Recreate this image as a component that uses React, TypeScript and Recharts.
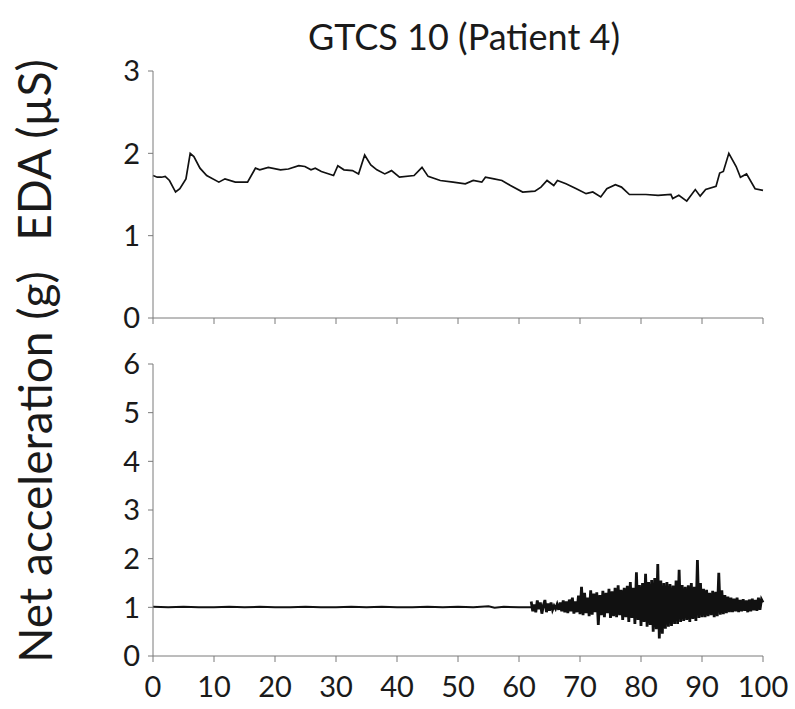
import { LineChart, Line, XAxis, YAxis } from "recharts";

const X_TICKS = [0, 10, 20, 30, 40, 50, 60, 70, 80, 90, 100];
const EDA_TICKS = [0, 1, 2, 3];
const ACC_TICKS = [0, 1, 2, 3, 4, 5, 6];

// EDA trace (time, µS)
const edaTime = [
  0, 0.7, 1.4, 2, 2.7, 3.7, 4.4, 5.4, 6.1, 6.7, 7.7, 8.8, 10.8, 11.8, 13.5, 15.5, 16.8, 17.5, 18.9, 20.9,
  22.2, 23.9, 24.9, 25.9, 26.6, 27.6, 29.6, 30.3, 31.3, 32.7, 33.7, 34.7, 35.7, 36.7, 38, 39.1, 40.4, 42.8,
  44.1, 45.1, 47.1, 49.2, 51.2, 52.5, 53.9, 54.5, 55.9, 57.2, 58.6, 60.6, 62.6, 63.6, 64.6, 65.7, 66.3,
  67.7, 69.4, 71, 72.1, 73.4, 74.4, 75.8, 76.8, 78.1, 80.8, 82.8, 84.9, 85.2, 86.2, 87.5, 88.9, 89.7, 90.6,
  92.3, 92.9, 93.5, 94.4, 95.6, 96.3, 97.3, 98.7, 100,
];
const edaValue = [
  1.73, 1.71, 1.71, 1.72, 1.67, 1.53, 1.57, 1.69, 2.0, 1.96, 1.82, 1.73, 1.65, 1.69, 1.65, 1.65, 1.82, 1.8,
  1.83, 1.8, 1.81, 1.85, 1.84, 1.8, 1.82, 1.78, 1.73, 1.85, 1.8, 1.79, 1.75, 1.98, 1.86, 1.8, 1.75, 1.79,
  1.71, 1.73, 1.83, 1.72, 1.67, 1.65, 1.63, 1.67, 1.65, 1.71, 1.69, 1.67, 1.61, 1.53, 1.54, 1.59, 1.67,
  1.61, 1.67, 1.63, 1.57, 1.51, 1.53, 1.47, 1.57, 1.62, 1.59, 1.5, 1.5, 1.49, 1.5, 1.45, 1.49, 1.42, 1.56,
  1.48, 1.56, 1.6, 1.76, 1.78, 2.0, 1.84, 1.71, 1.75, 1.57, 1.55,
];

// quiet part of the acceleration trace (time, g)
const accQuietTime = [0, 2.5, 5, 7.5, 10, 12.5, 15, 17.5, 20, 22.5, 25, 27.5, 30, 32.5, 35, 37.5, 40, 42.5, 45, 47.5, 50, 52.5, 55, 56, 57.5, 60, 62];
const accQuietValue = [1.01, 1.0, 1.01, 1.0, 1.0, 1.01, 1.0, 1.01, 1.0, 1.0, 1.01, 1.0, 1.0, 1.01, 1.0, 1.01, 1.0, 1.0, 1.01, 1.0, 1.01, 1.0, 1.02, 0.99, 1.01, 1.0, 1.0];

// convulsive burst, sampled every 0.25 s from t = 62
const BURST_START = 62;
const BURST_STEP = 0.25;
const burstValue = [
  1.12, 0.92, 1.06, 0.9, 1.14, 0.96, 1.1, 0.87, 1.04, 1.15, 0.9, 1.08, 0.93, 1.1, 0.95, 1.03,
  0.97, 1.06, 0.95, 1.1, 0.92, 1.14, 0.9, 1.12, 0.88, 1.16, 0.92, 1.2, 0.87, 1.12, 0.9, 1.24,
  0.86, 1.42, 0.84, 1.3, 0.88, 1.2, 0.82, 1.35, 0.85, 1.28, 0.9, 1.31, 0.64, 1.25, 0.84, 1.34,
  0.8, 1.3, 0.88, 1.38, 0.78, 1.33, 0.82, 1.4, 0.8, 1.45, 0.84, 1.36, 0.74, 1.4, 0.8, 1.44,
  0.7, 1.52, 0.78, 1.4, 0.66, 1.72, 0.74, 1.46, 0.62, 1.5, 0.7, 1.69, 0.6, 1.52, 0.64, 1.56,
  0.5, 1.6, 0.55, 1.89, 0.36, 1.55, 0.46, 1.5, 0.56, 1.52, 0.6, 1.48, 0.62, 1.45, 0.66, 1.55,
  0.66, 1.77, 0.7, 1.46, 0.72, 1.42, 0.74, 1.45, 0.7, 1.5, 0.76, 1.42, 0.72, 1.97, 0.78, 1.5,
  0.8, 1.38, 0.8, 1.36, 0.82, 1.3, 0.84, 1.34, 0.8, 1.32, 0.82, 1.71, 0.85, 1.35, 0.86, 1.25,
  0.88, 1.22, 0.9, 1.2, 0.9, 1.18, 0.92, 1.2, 0.9, 1.15, 0.92, 1.17, 0.93, 1.14, 0.9, 1.16,
  0.92, 1.18, 0.94, 1.15, 0.93, 1.2, 0.95, 1.16, 1.1,
];

const edaData = edaTime.map((t, i) => ({ t, v: edaValue[i] }));
const accData = [
  ...accQuietTime.map((t, i) => ({ t, quiet: accQuietValue[i] })),
  ...burstValue.map((v, i) => ({ t: BURST_START + i * BURST_STEP, burst: v })),
];

const FONT = "Lato, 'Open Sans', sans-serif";
const AXIS = "#7a7a7a";
const INK = "#1a1a1a";
const tickStyle = { fill: INK, fontSize: 29, fontFamily: FONT };

export default function App() {
  return (
    <div style={{ position: "absolute", left: 0, top: 0, width: 795, height: 709, background: "#fff" }}>
      <div style={{ position: "absolute", left: 0, top: 0 }}>
        <LineChart width={795} height={345} data={edaData} margin={{ top: 71, right: 32, left: 93, bottom: 17 }}>
          <XAxis
            dataKey="t"
            type="number"
            domain={[0, 100]}
            ticks={X_TICKS}
            height={10}
            stroke={AXIS}
            tickSize={6}
            interval={0}
            tickFormatter={() => ""}
          />
          <YAxis
            type="number"
            domain={[0, 3]}
            ticks={EDA_TICKS}
            width={60}
            stroke={AXIS}
            tickSize={5}
            tickMargin={8}
            interval={0}
            tick={tickStyle}
          />
          <Line dataKey="v" type="linear" stroke="#111" strokeWidth={1.7} dot={false} isAnimationActive={false} />
        </LineChart>
      </div>
      <div style={{ position: "absolute", left: 0, top: 330 }}>
        <LineChart width={795} height={379} data={accData} margin={{ top: 34, right: 32, left: 93, bottom: 13 }}>
          <XAxis
            dataKey="t"
            type="number"
            domain={[0, 100]}
            ticks={X_TICKS}
            height={40}
            stroke={AXIS}
            tickSize={6}
            tickMargin={14}
            tick={tickStyle}
            interval={0}
          />
          <YAxis
            type="number"
            domain={[0, 6]}
            ticks={ACC_TICKS}
            width={60}
            stroke={AXIS}
            tickSize={5}
            tickMargin={8}
            interval={0}
            tick={tickStyle}
          />
          <Line dataKey="quiet" type="linear" stroke="#111" strokeWidth={2} dot={false} connectNulls={false} isAnimationActive={false} />
          <Line dataKey="burst" type="linear" stroke="#111" strokeWidth={2.8} dot={false} connectNulls={false} isAnimationActive={false} />
        </LineChart>
      </div>
      <svg width={795} height={709} style={{ position: "absolute", left: 0, top: 0, pointerEvents: "none" }}>
        <text x={464} y={36} textAnchor="middle" dominantBaseline="central" fontSize={36} fontFamily={FONT} fill={INK}>
          GTCS 10 (Patient 4)
        </text>
        <text
          x={33}
          y={150}
          transform="rotate(-90 33 150)"
          textAnchor="middle"
          dominantBaseline="central"
          fontSize={46}
          fontFamily={FONT}
          fill={INK}
        >
          EDA (µS)
        </text>
        <text
          x={34}
          y={467}
          transform="rotate(-90 34 467)"
          textAnchor="middle"
          dominantBaseline="central"
          fontSize={46}
          fontFamily={FONT}
          fill={INK}
        >
          Net acceleration (g)
        </text>
      </svg>
    </div>
  );
}
